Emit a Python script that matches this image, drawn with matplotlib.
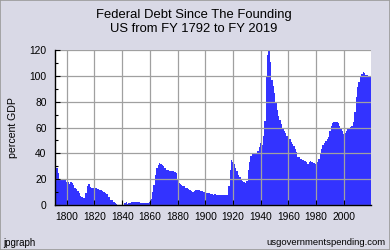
import matplotlib
matplotlib.use("Agg")
import matplotlib.pyplot as plt
import numpy as np
from matplotlib.patches import Rectangle

# federal debt as percent of GDP, FY 1792 - FY 2019
years = np.arange(1792, 2020)
debt_pct = [
    33, 29, 25, 20, 19.5, 19.5, 19, 19, 18, 17.5,            # 1792-1801
    16, 17.5, 17, 15.5, 13.5, 12.5, 11, 9, 7, 6,             # 1802-1811
    5.7, 5.7, 9.5, 15, 16.5, 14, 13, 13, 12.8, 12.8,         # 1812-1821
    12.5, 12.3, 12, 11.5, 11, 10.3, 9.5, 8.5, 6.5, 6,        # 1822-1831
    4, 3.5, 2, 1.5, 0.8, 0, 0, 0, 0, 0,                      # 1832-1841
    1.4, 2.3, 0.8, 1.2, 1.2, 2.3, 2.5, 2.5, 2.4, 2.3,        # 1842-1851
    2.3, 1.5, 1.3, 1.3, 1.2, 1.2, 1.3, 1.4, 2.5, 5,          # 1852-1861
    10, 15.5, 23, 28.5, 31, 32.3, 32, 31, 30, 29,            # 1862-1871
    27, 27, 26.5, 26.5, 26, 26, 25.5, 24.5, 19, 17,          # 1872-1881
    16, 15.5, 15, 15, 13.5, 13, 12.5, 11.5, 11, 10,          # 1882-1891
    10.5, 11.5, 11.8, 11.8, 11.5, 11, 10.5, 10.4, 9.5, 9.2,  # 1892-1901
    9, 9, 8.8, 8.5, 7.8, 8.8, 7.8, 7.7, 7.7, 7.7,            # 1902-1911
    7.7, 7.7, 7.7, 7.7, 7.7, 15, 27, 35, 33, 31.5,           # 1912-1921
    28.5, 26, 23, 21.5, 20, 18.5, 17.5, 17, 18.5, 27,        # 1922-1931
    33.5, 38, 39.5, 39.5, 39.5, 40, 41.5, 45, 47.8, 46.5,    # 1932-1941
    53.5, 65, 100, 116, 119.2, 111, 97, 92, 87, 79,          # 1942-1951
    73.5, 69, 65.5, 62.5, 60, 57, 56, 53.5, 52.5, 51,        # 1952-1961
    49, 47, 46, 43, 41, 37.5, 37, 36, 35, 34.8,              # 1962-1971
    34, 33, 31.5, 33, 34.2, 33.5, 32.8, 32.3, 31.5, 33,      # 1972-1981
    36, 39.5, 43, 46.5, 48, 49.5, 51, 53, 57, 61,            # 1982-1991
    63.5, 64, 64.2, 64, 63.5, 61.5, 59, 57, 54.7, 55.5,      # 1992-2001
    57.5, 59.3, 60, 60.5, 61, 64, 72, 84, 91, 95.5,          # 2002-2011
    99, 101.5, 103, 102, 101, 100.5, 99.8, 99,               # 2012-2019
]

x_ticks = np.arange(1800, 2001, 20)
y_ticks = np.arange(0, 121, 20)

bg = "#d9d9e6"
fill_color = "#3333ff"
grid_color = "#a0a0a0"
font = ["Liberation Sans", "DejaVu Sans"]

fig = plt.figure(figsize=(3.9, 2.5), dpi=100, facecolor=bg)
fig.patches.append(Rectangle((0, 0), 1, 1, transform=fig.transFigure,
                             fill=False, edgecolor="#9a9a9a", linewidth=1.2))

ax = fig.add_axes([0.141, 0.18, 0.810, 0.62])
ax.set_facecolor("white")

edges = np.append(years - 0.5, years[-1] + 0.5)
ax.stairs(debt_pct, edges, fill=True, color=fill_color, linewidth=0, zorder=1)

ax.set_xlim(years[0] - 0.5, years[-1] + 0.5)
ax.set_ylim(0, 120)
ax.set_xticks(x_ticks)
ax.set_yticks(y_ticks)
ax.set_yticks(np.arange(10, 120, 20), minor=True)

ax.grid(True, which="major", color=grid_color, linewidth=0.9, zorder=2)
ax.set_axisbelow(False)

for side in ["top", "right"]:
    ax.spines[side].set_visible(False)
for side in ["left", "bottom"]:
    ax.spines[side].set_color("black")
    ax.spines[side].set_linewidth(1.0)
    ax.spines[side].set_zorder(3)

ax.tick_params(axis="both", which="major", direction="in", length=3.5,
               width=0.8, color="black", labelsize=7.4, pad=5)
ax.tick_params(axis="y", which="minor", direction="in", length=2.2,
               width=0.8, color="black")
ax.tick_params(axis="y", pad=6)
for lab in ax.get_xticklabels() + ax.get_yticklabels():
    lab.set_family(font)

fig.text(0.033, 0.488, "percent GDP", rotation=90, ha="center", va="center",
         fontsize=7.6, family=font)
fig.text(0.497, 0.912, "Federal Debt Since The Founding\nUS from FY 1792 to FY 2019",
         ha="center", va="center", fontsize=9.4, linespacing=1.25, family=font)
fig.text(0.008, 0.03, "jpgraph", ha="left", va="center", fontsize=7, family=font)
fig.text(0.988, 0.03, "usgovernmentspending.com", ha="right", va="center",
         fontsize=6.8, family=font)

fig.savefig("out.png", dpi=100, facecolor=bg)
